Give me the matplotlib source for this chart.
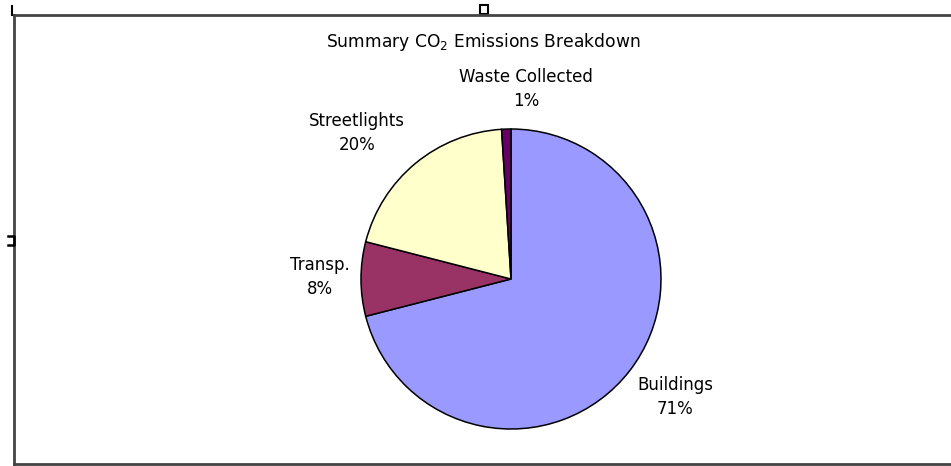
import matplotlib
matplotlib.use("Agg")
import matplotlib.pyplot as plt
from matplotlib.lines import Line2D
from matplotlib.patches import Rectangle

# ---- data ----
categories = ["Buildings", "Transp.", "Streetlights", "Waste Collected"]
values = [71, 8, 20, 1]
colors = ["#9999FF", "#993366", "#FFFFCC", "#660066"]
title = "Summary CO$_2$ Emissions Breakdown"

# label placement (in pie-radius units, relative to the pie centre)
label_pos = [(1.093, -0.787), (-1.273, 0.013), (-1.027, 0.973), (0.10, 1.267)]

W, H = 951, 466
fig = plt.figure(figsize=(W / 100, H / 100), dpi=100)
ax = fig.add_axes([0, 0, 1, 1])

total = sum(values)
labels = [f"{c}\n{round(v * 100 / total)}%" for c, v in zip(categories, values)]
wedges, texts = ax.pie(values, colors=colors, startangle=90, counterclock=False,
                       labels=labels, radius=1.0,
                       wedgeprops=dict(edgecolor="black", linewidth=1.1),
                       textprops=dict(fontsize=12, family="DejaVu Sans", color="black"))
for t, (px, py) in zip(texts, label_pos):
    t.set_position((px, py))
    t.set_ha("center")
    t.set_va("center")
    t.set_multialignment("center")
    t.set_linespacing(1.4)

cx, cy, r = 511, 466 - 279, 150  # pie centre / radius in pixels
ax.set_xlim(-cx / r, (W - cx) / r)
ax.set_ylim(-cy / r, (H - cy) / r)
ax.set_aspect("equal")
ax.axis("off")

fig.text(483 / W, 1 - 42 / H, title, ha="center", va="center", fontsize=12.3,
         family="DejaVu Sans", color="black")

# chart frame (Excel-like selection border)
fx = 14 / W
ftop = 1 - 15 / H
fbot = 1 - 464 / H
fc = "#444444"
fig.add_artist(Line2D([fx, 1], [ftop, ftop], color=fc, linewidth=2.0, transform=fig.transFigure))
fig.add_artist(Line2D([fx, fx], [fbot, ftop], color=fc, linewidth=2.0, transform=fig.transFigure))
fig.add_artist(Line2D([fx, 1], [fbot, fbot], color=fc, linewidth=2.0, transform=fig.transFigure))
# small handles
fig.add_artist(Rectangle((480 / W, 1 - 14 / H), 8 / W, 9 / H, fill=False, edgecolor="black",
                         linewidth=1.5, transform=fig.transFigure))
fig.add_artist(Line2D([8 / W, 14 / W, 14 / W, 8 / W], [1 - 236 / H, 1 - 236 / H, 1 - 245 / H, 1 - 245 / H],
                      color="black", linewidth=1.8, transform=fig.transFigure))
fig.add_artist(Line2D([12 / W, 12 / W], [1 - 6 / H, 1 - 15 / H], color="black", linewidth=1.5,
                      transform=fig.transFigure))

fig.savefig("out.png", dpi=100, facecolor="white")
